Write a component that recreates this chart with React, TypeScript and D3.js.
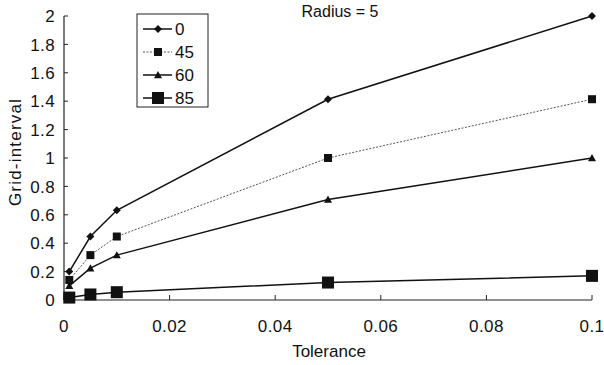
import React from "react";
import * as d3 from "d3";

const tolerances = [0.001, 0.005, 0.01, 0.05, 0.1];
const series0 = [0.2, 0.447, 0.632, 1.414, 2.0];
const series45 = [0.141, 0.316, 0.447, 1.0, 1.414];
const series60 = [0.1, 0.224, 0.316, 0.707, 1.0];
const series85 = [0.017, 0.039, 0.055, 0.123, 0.17];
const seriesNames = ["0", "45", "60", "85"];
const xTicks = [0, 0.02, 0.04, 0.06, 0.08, 0.1];
const yTicks = [0, 0.2, 0.4, 0.6, 0.8, 1, 1.2, 1.4, 1.6, 1.8, 2];

const W = 604, H = 365;
const FONT = "'Liberation Sans', Arial, Helvetica, sans-serif";

export default function App() {
  const x = d3.scaleLinear().domain([0, 0.1]).range([64, 592]);
  const y = d3.scaleLinear().domain([0, 2]).range([300, 16]);
  const allSeries = [series0, series45, series60, series85];
  const styles = [
    { dash: undefined, width: 1.5, color: "#111", marker: "diamond", size: 8 },
    { dash: "2,1.5", width: 1, color: "#555", marker: "square", size: 8 },
    { dash: undefined, width: 1.5, color: "#111", marker: "triangle", size: 8 },
    { dash: undefined, width: 1.5, color: "#111", marker: "bigsquare", size: 12 },
  ];
  const line = d3.line<number>().x((_, i) => x(tolerances[i])).y((v) => y(v));

  const marker = (type: string, cx: number, cy: number, s: number, key: any) => {
    if (type === "diamond") {
      const h = s / 2;
      return <path key={key} d={`M${cx},${cy - h}L${cx + h},${cy}L${cx},${cy + h}L${cx - h},${cy}Z`} fill="#111" />;
    }
    if (type === "triangle") {
      const h = s / 2;
      return <path key={key} d={`M${cx},${cy - h}L${cx + h},${cy + h * 0.8}L${cx - h},${cy + h * 0.8}Z`} fill="#111" />;
    }
    return <rect key={key} x={cx - s / 2} y={cy - s / 2} width={s} height={s} fill="#111" />;
  };

  return (
    <svg width={W} height={H} style={{ position: "absolute", left: 0, top: 0, background: "#fff" }} fontFamily={FONT}>
      <rect width={W} height={H} fill="#fff" />
      {/* axes */}
      <line x1={x(0)} y1={y(0)} x2={x(0.1)} y2={y(0)} stroke="#222" strokeWidth={1.2} />
      <line x1={x(0)} y1={y(0)} x2={x(0)} y2={y(2)} stroke="#222" strokeWidth={1.2} />
      {yTicks.map((t) => (
        <g key={"y" + t}>
          <line x1={x(0)} x2={x(0) + 4} y1={y(t)} y2={y(t)} stroke="#222" />
          <text x={55} y={y(t)} dy="0.36em" textAnchor="end" fontSize={17} letterSpacing={0.4} fill="#111">{String(t)}</text>
        </g>
      ))}
      {xTicks.map((t) => (
        <g key={"x" + t}>
          <line x1={x(t)} x2={x(t)} y1={y(0)} y2={y(0) - 5} stroke="#222" />
          <text x={x(t)} y={332} textAnchor="middle" fontSize={17} letterSpacing={0.4} fill="#111">{String(t)}</text>
        </g>
      ))}
      <text x={329} y={357} textAnchor="middle" fontSize={17} fill="#111">Tolerance</text>
      <text transform={`translate(21,152) rotate(-90)`} textAnchor="middle" fontSize={17} letterSpacing={1.2} fill="#111">Grid-interval</text>
      <text x={340} y={17} textAnchor="middle" fontSize={16} fill="#111">Radius = 5</text>
      {/* series */}
      {allSeries.map((s, si) => (
        <g key={"s" + si}>
          <path d={line(s) || ""} fill="none" stroke={styles[si].color} strokeWidth={styles[si].width} strokeDasharray={styles[si].dash} />
          {s.map((v, i) => marker(styles[si].marker, x(tolerances[i]), y(v), styles[si].size, i))}
        </g>
      ))}
      {/* legend */}
      <rect x={137} y={14} width={71} height={93} fill="#fff" stroke="#222" strokeWidth={1} />
      {seriesNames.map((n, i) => {
        const ly = 29 + i * 23;
        return (
          <g key={"l" + n}>
            <line x1={143} x2={172} y1={ly} y2={ly} stroke={styles[i].color} strokeWidth={styles[i].width} strokeDasharray={styles[i].dash} />
            {marker(styles[i].marker, 158, ly, styles[i].size, "m")}
            <text x={175} y={ly} dy="0.36em" fontSize={17} fill="#111">{n}</text>
          </g>
        );
      })}
    </svg>
  );
}
